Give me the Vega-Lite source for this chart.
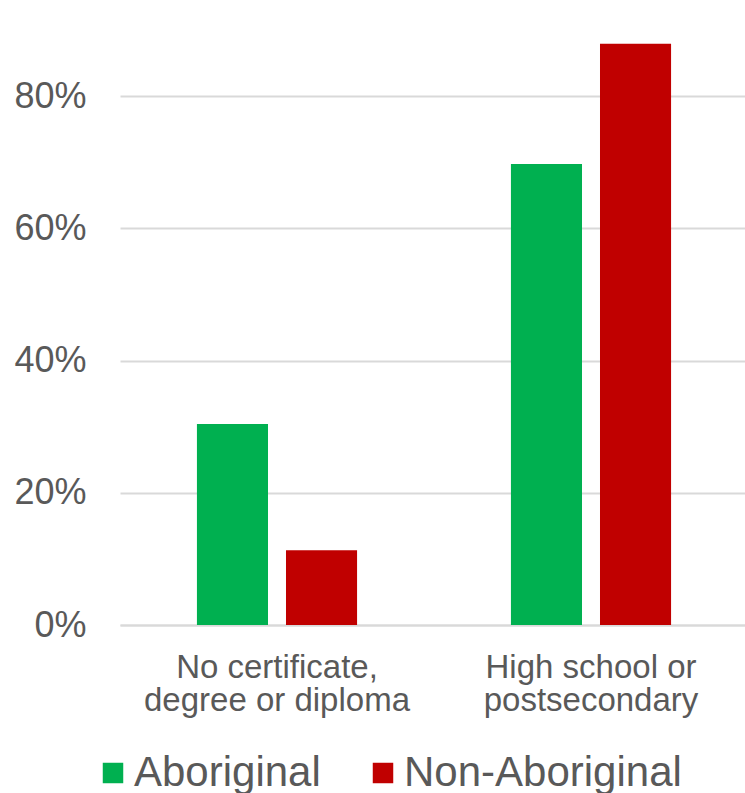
{
  "$schema": "https://vega.github.io/schema/vega-lite/v6.json",
  "width": 628,
  "height": 625,
  "autosize": {"type": "none"},
  "padding": {"left": 120, "top": 0, "right": 0, "bottom": 168},
  "background": "white",
  "config": {
    "font": "Liberation Sans",
    "view": {"stroke": null}
  },
  "data": {
    "values": [
      {"category": "No certificate, degree or diploma", "group": "Aboriginal", "value": 0.304},
      {"category": "No certificate, degree or diploma", "group": "Non-Aboriginal", "value": 0.113},
      {"category": "High school or postsecondary", "group": "Aboriginal", "value": 0.697},
      {"category": "High school or postsecondary", "group": "Non-Aboriginal", "value": 0.879}
    ]
  },
  "mark": {"type": "bar"},
  "encoding": {
    "x": {
      "field": "category",
      "type": "nominal",
      "sort": ["No certificate, degree or diploma", "High school or postsecondary"],
      "scale": {"paddingInner": 0.49, "paddingOuter": 0.245},
      "axis": {
        "title": null,
        "labelAngle": 0,
        "ticks": false,
        "domain": true,
        "domainColor": "#d9d9d9",
        "domainWidth": 2,
        "labelFontSize": 33,
        "labelColor": "#595959",
        "labelPadding": 26,
        "labelLineHeight": 33,
        "labelLimit": 0,
        "labelExpr": "datum.value == 'No certificate, degree or diploma' ? ['No certificate,', 'degree or diploma'] : ['High school or', 'postsecondary']"
      }
    },
    "xOffset": {
      "field": "group",
      "type": "nominal",
      "scale": {"paddingInner": 0.202, "paddingOuter": 0}
    },
    "y": {
      "field": "value",
      "type": "quantitative",
      "scale": {"domain": [0, 0.9452], "nice": false, "zero": true},
      "axis": {
        "title": null,
        "values": [0, 0.2, 0.4, 0.6, 0.8],
        "format": ".0%",
        "domain": false,
        "ticks": false,
        "grid": true,
        "gridColor": "#d9d9d9",
        "gridWidth": 2,
        "labelFontSize": 36,
        "labelColor": "#595959",
        "labelPadding": 34
      }
    },
    "color": {
      "field": "group",
      "type": "nominal",
      "scale": {"domain": ["Aboriginal", "Non-Aboriginal"], "range": ["#00B050", "#C00000"]},
      "legend": {
        "title": null,
        "orient": "none",
        "direction": "horizontal",
        "legendX": -28,
        "legendY": 752,
        "symbolType": "square",
        "symbolSize": 420,
        "symbolStrokeWidth": 0,
        "labelFontSize": 42,
        "labelColor": "#595959",
        "labelOffset": 0,
        "labelLimit": 0,
        "columnPadding": 41,
        "padding": 0
      }
    }
  }
}
